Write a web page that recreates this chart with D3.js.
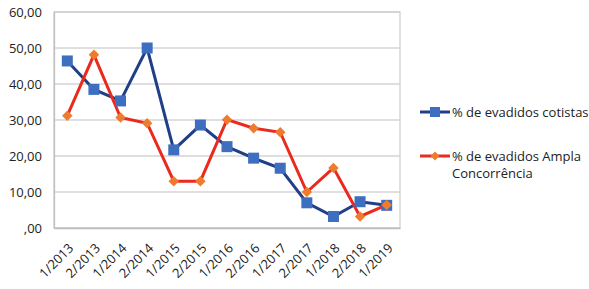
<!DOCTYPE html>
<meta charset="utf-8">
<script src="https://d3js.org/d3.v7.min.js"></script>
<style>
  body { margin: 0; background: #fff; }
  text { font-family: "Open Sans", "Liberation Sans", sans-serif; fill: #222; }
</style>
<div id="my_dataviz"></div>
<script>
    // data
    var periods = ["1/2013", "2/2013", "1/2014", "2/2014", "1/2015", "2/2015", "1/2016",
        "2/2016", "1/2017", "2/2017", "1/2018", "2/2018", "1/2019"];
    var cotistas = [46.4, 38.5, 35.3, 50.0, 21.7, 28.6, 22.6, 19.4, 16.6, 7.0, 3.2, 7.3, 6.3];
    var ampla = [31.2, 48.1, 30.7, 29.1, 13.0, 13.0, 30.1, 27.7, 26.6, 10.0, 16.7, 3.2, 6.4];
    var yTicks = [0, 10, 20, 30, 40, 50, 60];
    var seriesNames = ["% de evadidos cotistas", "% de evadidos Ampla Concorrência"];

    var margin = { top: 12, right: 189, bottom: 61, left: 54 },
        width = 589 - margin.left - margin.right,
        height = 289 - margin.top - margin.bottom;

    var svg = d3.select("#my_dataviz")
        .append("svg")
        .attr("width", 589)
        .attr("height", 289);

    var g = svg.append("g")
        .attr("transform", "translate(" + margin.left + "," + margin.top + ")");

    var x = d3.scaleBand()
        .domain(periods)
        .range([0, width])
        .paddingInner(0)
        .paddingOuter(0);

    var y = d3.scaleLinear()
        .domain([0, 60])
        .range([height, 0]);

    var fmt = function (v) { return v === 0 ? ",00" : d3.format(".2f")(v).replace(".", ","); };

    // gridlines
    g.selectAll(".grid")
        .data(yTicks)
        .enter()
        .append("line")
        .attr("x1", 0)
        .attr("x2", width)
        .attr("y1", function (d) { return y(d); })
        .attr("y2", function (d) { return y(d); })
        .attr("stroke", "#d4d4d4")
        .attr("stroke-width", 1.3);

    // plot frame
    g.append("rect")
        .attr("x", 0).attr("y", 0)
        .attr("width", width).attr("height", height)
        .attr("fill", "none")
        .attr("stroke", "#cfcfcf")
        .attr("stroke-width", 1.3);

    // Y axis
    var yAxis = g.append("g")
        .call(d3.axisLeft(y).tickValues(yTicks).tickFormat(fmt).tickSize(0).tickPadding(12));
    yAxis.select(".domain").attr("stroke", "#c0c0c0").attr("stroke-width", 1.3);
    yAxis.selectAll("text").style("font-size", "13px").attr("fill", "#222");

    // X axis
    var xAxis = g.append("g")
        .attr("transform", "translate(0," + height + ")")
        .call(d3.axisBottom(x).tickSize(0));
    xAxis.select(".domain").attr("stroke", "#bdbdbd").attr("stroke-width", 1.3);
    xAxis.selectAll("text")
        .style("font-size", "13px")
        .attr("fill", "#222")
        .attr("y", 0)
        .attr("dy", 0)
        .attr("transform", "translate(7,21)rotate(-45)")
        .style("text-anchor", "end");

    var cx = function (d, i) { return x(periods[i]) + x.bandwidth() / 2; };

    var line = d3.line()
        .x(function (d, i) { return cx(d, i); })
        .y(function (d) { return y(d); });

    // cotistas line
    g.append("path")
        .datum(cotistas)
        .attr("d", line)
        .attr("fill", "none")
        .attr("stroke", "#213f88")
        .attr("stroke-width", 3);

    // ampla line
    g.append("path")
        .datum(ampla)
        .attr("d", line)
        .attr("fill", "none")
        .attr("stroke", "#ea2a1e")
        .attr("stroke-width", 3);

    // square markers
    g.selectAll("mysquare")
        .data(cotistas)
        .enter()
        .append("rect")
        .attr("x", function (d, i) { return cx(d, i) - 5.5; })
        .attr("y", function (d) { return y(d) - 5.5; })
        .attr("width", 11)
        .attr("height", 11)
        .attr("fill", "#3d6ebf");

    // diamond markers
    var diamond = d3.symbol().type(d3.symbolDiamond2).size(70);
    g.selectAll("mydiamond")
        .data(ampla)
        .enter()
        .append("path")
        .attr("d", diamond)
        .attr("transform", function (d, i) { return "translate(" + cx(d, i) + "," + y(d) + ")"; })
        .attr("fill", "#ef7b2e");

    // legend
    var leg = svg.append("g");
    leg.append("line").attr("x1", 420).attr("x2", 450).attr("y1", 112).attr("y2", 112)
        .attr("stroke", "#213f88").attr("stroke-width", 3);
    leg.append("rect").attr("x", 430).attr("y", 107).attr("width", 10).attr("height", 10)
        .attr("fill", "#3d6ebf");
    leg.append("text").attr("x", 452).attr("y", 112).attr("dy", "0.35em")
        .style("font-size", "13px").text(seriesNames[0]);

    leg.append("line").attr("x1", 420).attr("x2", 450).attr("y1", 156).attr("y2", 156)
        .attr("stroke", "#ea2a1e").attr("stroke-width", 3);
    leg.append("path").attr("d", d3.symbol().type(d3.symbolDiamond2).size(50))
        .attr("transform", "translate(435,156)").attr("fill", "#ef7b2e");
    leg.append("text").attr("x", 452).attr("y", 156).attr("dy", "0.35em")
        .style("font-size", "13px").text("% de evadidos Ampla");
    leg.append("text").attr("x", 452).attr("y", 173).attr("dy", "0.35em")
        .style("font-size", "13px").text("Concorrência");
</script>
